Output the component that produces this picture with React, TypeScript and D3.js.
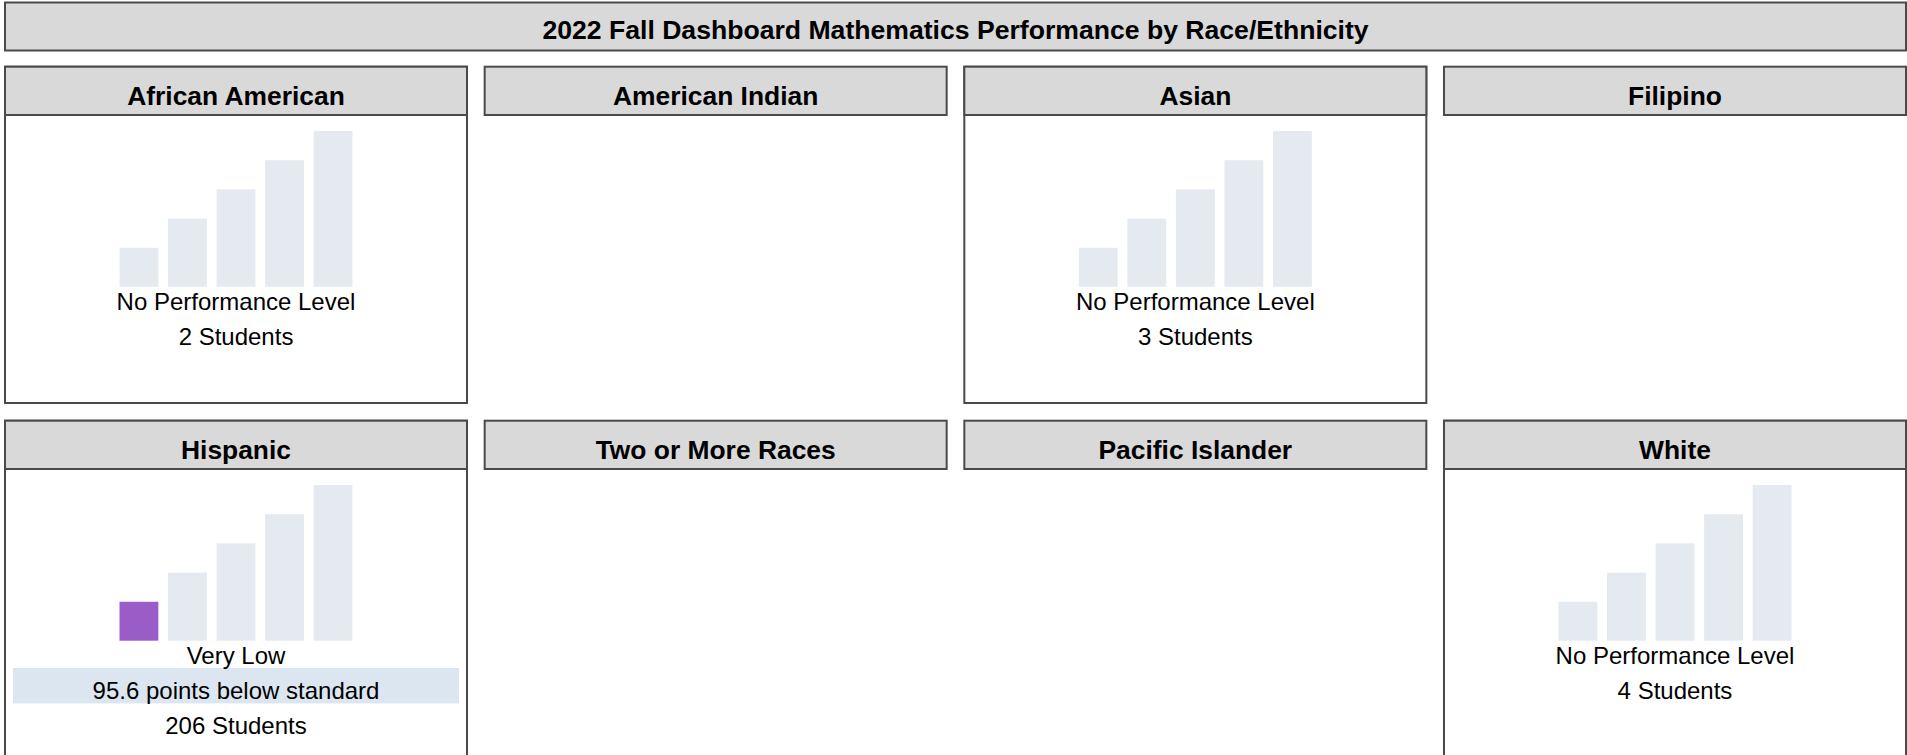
import * as d3 from 'd3';

// Chart content
const chartTitle = '2022 Fall Dashboard Mathematics Performance by Race/Ethnicity';
const groups = [
    'African American', 'American Indian', 'Asian', 'Filipino',
    'Hispanic', 'Two or More Races', 'Pacific Islander', 'White',
];
const statusLabels: (string | null)[] = [
    'No Performance Level', null, 'No Performance Level', null,
    'Very Low', null, null, 'No Performance Level',
];
const distanceLabels: (string | null)[] = [null, null, null, null, '95.6 points below standard', null, null, null];
const studentCounts: (number | null)[] = [2, null, 3, null, 206, null, null, 4];

// Performance level graphic (the stepped bars)
const levelNames = ['Very Low', 'Low', 'Medium', 'High', 'Very High'];
const levelHeights = [4, 7, 10, 13, 16];
const activeColor = '#9a5cc6';
const idleColor = '#e5e9f0';

const W = 1907;
const H = 755;
const FONT = '"Liberation Sans", Arial, Helvetica, sans-serif';
const BORDER = '#4a4a4a';

export default function App() {
    const cols = d3.scaleBand<number>().domain([0, 1, 2, 3]).range([5, 1906]).paddingInner(0.0368);
    const rowTop = d3.scaleLinear().domain([0, 1]).range([66.7, 420.7]);
    const headerH = 48.3;
    const bodyH = 336.3;

    return (
        <svg width={W} height={H} style={{ position: 'absolute', left: 0, top: 0 }} fontFamily={FONT}>
            <rect x={0} y={0} width={W} height={H} fill="#fff" />
            {/* title */}
            <rect x={5} y={2.5} width={1901} height={48} fill="#d9d9d9" stroke={BORDER} strokeWidth={2} />
            <text x={955.5} y={38.5} textAnchor="middle" fontSize={26.6} fontWeight="bold" fill="#000">
                {chartTitle}
            </text>

            {groups.map((name, i) => {
                const col = i % 4;
                const row = Math.floor(i / 4);
                const x0 = cols(col)!;
                const w = cols.bandwidth();
                const top = rowTop(row);
                const cx = x0 + w / 2;
                const status = statusLabels[i];
                const hasData = status !== null;

                const bx = d3.scaleBand<string>().domain(levelNames).range([cx - 116.5, cx + 116.5]).paddingInner(0.2);
                const by = d3.scaleLinear().domain([0, 16]).range([top + 220, top + 220 - 155.7]);

                const lines: string[] = [];
                if (hasData) {
                    lines.push(status as string);
                    if (distanceLabels[i]) lines.push(distanceLabels[i] as string);
                    lines.push(`${studentCounts[i]} Students`);
                }

                return (
                    <g key={name}>
                        {hasData && (
                            <rect x={x0} y={top} width={w} height={bodyH} fill="#fff" stroke={BORDER} strokeWidth={2} />
                        )}
                        <rect x={x0} y={top} width={w} height={headerH} fill="#d9d9d9" stroke={BORDER} strokeWidth={2} />
                        <text x={cx} y={top + 37.8} textAnchor="middle" fontSize={26.4} fontWeight="bold" fill="#000">
                            {name}
                        </text>
                        {hasData && levelNames.map((lv, k) => (
                            <rect
                                key={lv}
                                x={bx(lv)}
                                y={by(levelHeights[k])}
                                width={bx.bandwidth()}
                                height={by(0) - by(levelHeights[k])}
                                fill={lv === status ? activeColor : idleColor}
                            />
                        ))}
                        {distanceLabels[i] && (
                            <rect x={x0 + 8} y={top + 247.3} width={w - 16} height={35.4} fill="#dce6f1" />
                        )}
                        {lines.map((t, k) => (
                            <text
                                key={k}
                                x={cx}
                                y={top + 243 + k * 35}
                                textAnchor="middle"
                                fontSize={24}
                                fill="#000"
                            >
                                {t}
                            </text>
                        ))}
                    </g>
                );
            })}
        </svg>
    );
}
